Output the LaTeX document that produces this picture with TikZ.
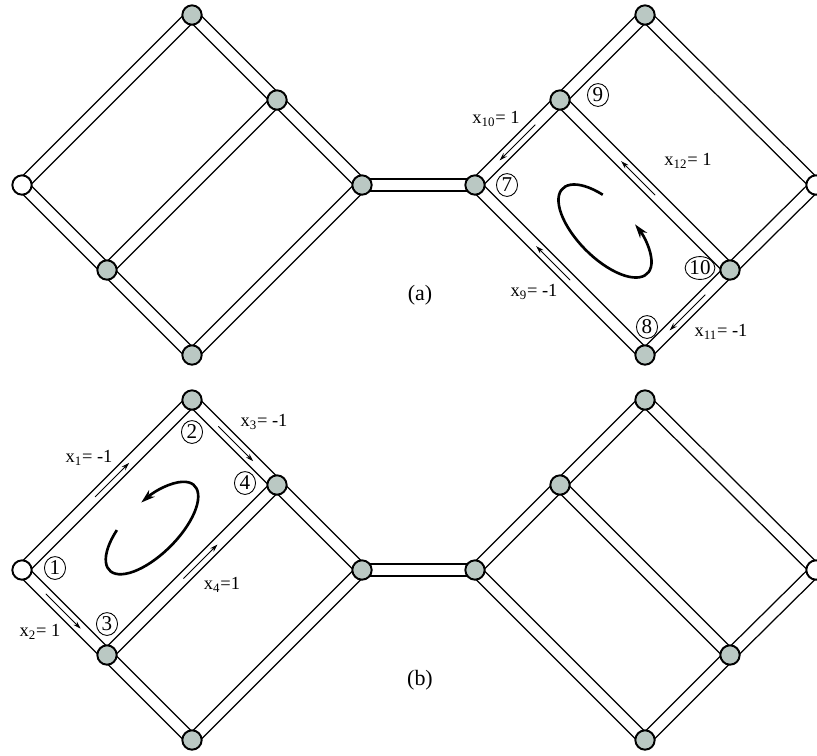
\documentclass[tikz,border=0pt]{standalone}
\usepackage{fontspec}
\setmainfont{Liberation Serif}
\usepackage{tikz}
\usetikzlibrary{arrows.meta, calc, shapes.geometric, backgrounds}
\definecolor{vtxfill}{HTML}{BAC8C3}
\tikzset{
  vtx/.style={circle, draw=black, fill=vtxfill, line width=1.1pt, minimum size=11pt, inner sep=0pt},
  endvtx/.style={vtx, fill=white},
  tube/.style={draw=black, line width=0.8pt, double=white, double distance=6pt},
  flow/.style={-{Stealth[length=4.5pt, width=2.8pt]}, line width=0.45pt},
  spin/.style={-{Stealth[length=8pt, width=5pt]}, line width=1.5pt},
  numtag/.style={ellipse, draw, line width=0.5pt, inner sep=0pt, minimum width=12pt,
    minimum height=13pt, font=\fontsize{12}{13}\selectfont},
  varlbl/.style={inner sep=0pt, font=\fontsize{10.5}{12}\selectfont},
  figlabel/.style={inner sep=0pt, font=\fontsize{12.5}{14}\selectfont}
}

\begin{document}
\begin{tikzpicture}[x=0.02cm, y=-0.02cm]
\useasboundingbox (0,0) rectangle (817,755);
% graph (a)
\node[endvtx] (a1) at (22,185) {};  \node[vtx] (a2) at (192,15) {};
\node[vtx] (a3) at (107,270) {};    \node[vtx] (a4) at (277,100) {};
\node[vtx] (a5) at (362,185) {};    \node[vtx] (a6) at (192,355) {};
\node[vtx] (a7) at (475,185) {};    \node[vtx] (a8) at (645,355) {};
\node[vtx] (a9) at (560,100) {};    \node[vtx] (a10) at (730,270) {};
\node[vtx] (a11) at (645,15) {};    \node[endvtx] (a12) at (816,185) {};
% graph (b)
\node[endvtx] (b1) at (22,570) {};  \node[vtx] (b2) at (192,400) {};
\node[vtx] (b3) at (107,655) {};    \node[vtx] (b4) at (277,485) {};
\node[vtx] (b5) at (362,570) {};    \node[vtx] (b6) at (192,740) {};
\node[vtx] (b7) at (475,570) {};    \node[vtx] (b8) at (645,740) {};
\node[vtx] (b9) at (560,485) {};    \node[vtx] (b10) at (730,655) {};
\node[vtx] (b11) at (645,400) {};   \node[endvtx] (b12) at (816,570) {};
% tubes
\begin{scope}[on background layer]
\draw[tube] (a1.center)--(a2.center); \draw[tube] (a1.center)--(a3.center); \draw[tube] (a3.center)--(a6.center);
\draw[tube] (a2.center)--(a4.center); \draw[tube] (a4.center)--(a5.center); \draw[tube] (a5.center)--(a6.center);
\draw[tube] (a3.center)--(a4.center); \draw[tube] (a5.center)--(a7.center); \draw[tube] (a7.center)--(a9.center);
\draw[tube] (a9.center)--(a11.center); \draw[tube] (a7.center)--(a8.center); \draw[tube] (a8.center)--(a10.center);
\draw[tube] (a10.center)--(a12.center); \draw[tube] (a11.center)--(a12.center); \draw[tube] (a9.center)--(a10.center);
\draw[tube] (b1.center)--(b2.center); \draw[tube] (b1.center)--(b3.center); \draw[tube] (b3.center)--(b6.center);
\draw[tube] (b2.center)--(b4.center); \draw[tube] (b4.center)--(b5.center); \draw[tube] (b5.center)--(b6.center);
\draw[tube] (b3.center)--(b4.center); \draw[tube] (b5.center)--(b7.center); \draw[tube] (b7.center)--(b9.center);
\draw[tube] (b9.center)--(b11.center); \draw[tube] (b7.center)--(b8.center); \draw[tube] (b8.center)--(b10.center);
\draw[tube] (b10.center)--(b12.center); \draw[tube] (b11.center)--(b12.center); \draw[tube] (b9.center)--(b10.center);
\end{scope}
% flows in (a)
\draw[flow] ($(a9)!0.29!(a7)$) -- ($(a9)!0.71!(a7)$);
\draw[flow] ($(a10)!0.44!(a9)$) -- ($(a10)!0.64!(a9)$);
\draw[flow] ($(a8)!0.44!(a7)$) -- ($(a8)!0.64!(a7)$);
\draw[flow] ($(a10)!0.29!(a8)$) -- ($(a10)!0.71!(a8)$);
% flows in (b)
\draw[flow] ($(b1)!0.43!(b2)$) -- ($(b1)!0.63!(b2)$);
\draw[flow] ($(b2)!0.31!(b4)$) -- ($(b2)!0.72!(b4)$);
\draw[flow] ($(b3)!0.45!(b4)$) -- ($(b3)!0.65!(b4)$);
\draw[flow] ($(b1)!0.28!(b3)$) -- ($(b1)!0.69!(b3)$);
% loops
\draw[spin, shift={(605,231)}, rotate=-45] (243:60 and 27) arc[start angle=243, end angle=-74, x radius=60, y radius=27];
\draw[spin, shift={(152,528)}, rotate=45] (244:60 and 26) arc[start angle=244, end angle=-80, x radius=60, y radius=26];
% tags and labels
\node[numtag] (t7) at (507,185) {7};   \node[numtag] (t8) at (647,327) {8};
\node[numtag] (t9) at (598,95) {9};    \node[numtag] (t10) at (700,268) {10};
\node[numtag] (t1) at (55,568) {1};    \node[numtag] (t2) at (192,432) {2};
\node[numtag] (t3) at (107,624) {3};   \node[numtag] (t4) at (245,483) {4};
\node[varlbl] (x10) at (496,119) {x\textsubscript{10}= 1};
\node[varlbl] (x12) at (688,161) {x\textsubscript{12}= 1};
\node[varlbl] (x9) at (534,292) {x\textsubscript{9}= -1};
\node[varlbl] (x11) at (721,332) {x\textsubscript{11}= -1};
\node[varlbl] (x1) at (89,458) {x\textsubscript{1}= -1};
\node[varlbl] (x3) at (264,422) {x\textsubscript{3}= -1};
\node[varlbl] (x4) at (222,585) {x\textsubscript{4}=1};
\node[varlbl] (x2) at (40,632) {x\textsubscript{2}= 1};
\node[figlabel] (capa) at (420,295) {(a)};
\node[figlabel] (capb) at (420,680) {(b)};
\end{tikzpicture}
\end{document}
